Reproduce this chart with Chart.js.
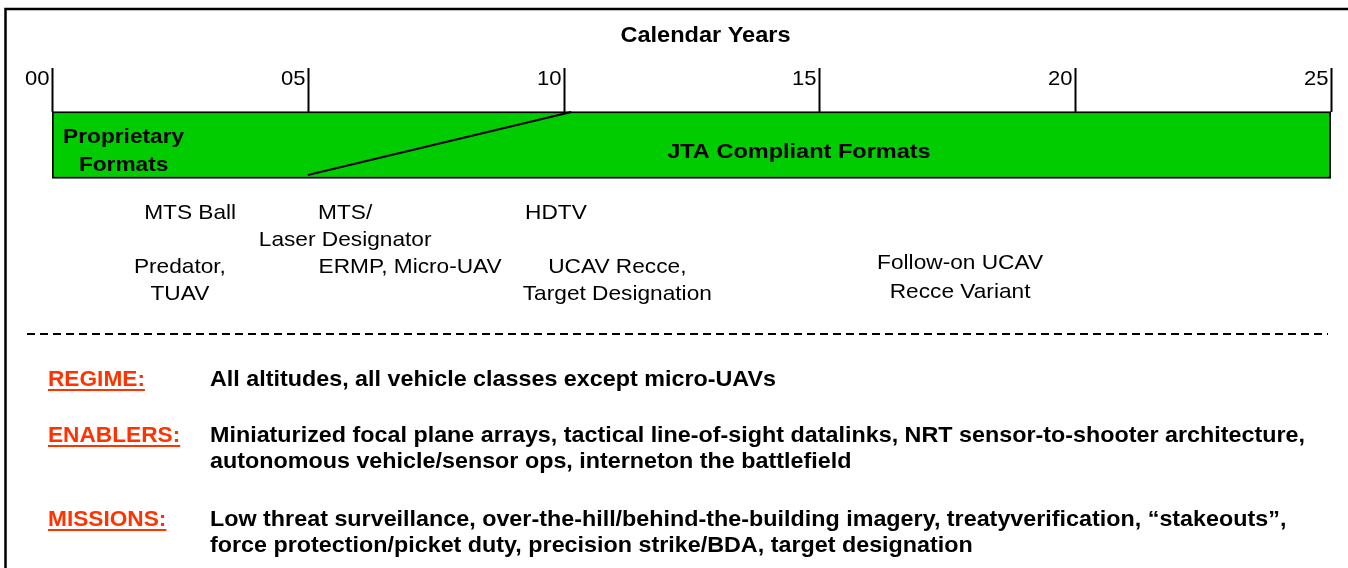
<!DOCTYPE html>
<html>
<head>
<meta charset="utf-8">
<script src="https://cdn.jsdelivr.net/npm/chart.js"></script>
<style>
  html, body { margin: 0; padding: 0; background: #fff; }
  canvas { display: block; }
</style>
</head>
<body>
<canvas id="timeline" width="1348" height="568"></canvas>
<script>
  // years on the calendar axis
  var yearTicks = [0, 5, 10, 15, 20, 25];
  var tickLabels = ['00', '05', '10', '15', '20', '25'];
  var timelineSpan = [0, 25];

  // proprietary -> JTA transition (years at bar bottom and bar top)
  var transitionYears = [5, 10.15];

  var phaseNames = [['Proprietary', 'Formats'], ['JTA Compliant Formats']];
  var phaseYears = [1.4, 14.6];

  // sensors (upper row) and platforms (lower row), placed by year
  var sensorNames = [['MTS Ball'], ['MTS/', 'Laser Designator'], ['HDTV']];
  var sensorYears = [2.7, 5.73, 9.85];
  var platformNames = [['Predator,', 'TUAV'], ['ERMP, Micro-UAV'], ['UCAV Recce,', 'Target Designation'], ['Follow-on UCAV', 'Recce Variant']];
  var platformYears = [2.5, 7.0, 11.05, 17.75];

  var sectionTitles = ['REGIME:', 'ENABLERS:', 'MISSIONS:'];
  var sectionTexts = [
    ['All altitudes, all vehicle classes except micro-UAVs'],
    ['Miniaturized focal plane arrays, tactical line-of-sight datalinks, NRT sensor-to-shooter architecture,',
     'autonomous vehicle/sensor ops, interneton the battlefield'],
    ['Low threat surveillance, over-the-hill/behind-the-building imagery, treatyverification, \u201cstakeouts\u201d,',
     'force protection/picket duty, precision strike/BDA, target designation']
  ];

  var FONT = '"Liberation Sans", Arial, sans-serif';

  // text drawn slightly stretched sideways, like the source slide
  function stretchText(ctx, text, x, y, sx) {
    ctx.save();
    ctx.translate(x, y);
    ctx.scale(sx, 1);
    ctx.fillText(text, 0, 0);
    ctx.restore();
    return ctx.measureText(text).width * sx;
  }

  function drawLines(ctx, lines, cx, top, step, sx) {
    for (var i = 0; i < lines.length; i++) {
      stretchText(ctx, lines[i], cx, top + i * step, sx);
    }
  }

  var decorPlugin = {
    id: 'decor',
    beforeDraw: function(chart) {
      var ctx = chart.ctx;
      ctx.save();
      ctx.strokeStyle = '#000';
      ctx.lineWidth = 2.5;
      ctx.beginPath();
      ctx.moveTo(5.5, 568);
      ctx.lineTo(5.5, 9);
      ctx.lineTo(1348, 9);
      ctx.stroke();
      ctx.restore();
    },
    afterDatasetsDraw: function(chart) {
      var ctx = chart.ctx;
      var x = chart.scales.x;
      var y = chart.scales.y;
      ctx.save();

      // title
      ctx.fillStyle = '#000';
      ctx.textAlign = 'center';
      ctx.textBaseline = 'middle';
      ctx.font = 'bold 22px ' + FONT;
      stretchText(ctx, 'Calendar Years', (x.left + x.right) / 2 + 14, y.getPixelForValue(36), 1.07);

      // year ticks
      ctx.strokeStyle = '#000';
      ctx.lineWidth = 2;
      ctx.font = '21px ' + FONT;
      ctx.textAlign = 'right';
      for (var i = 0; i < yearTicks.length; i++) {
        var px = Math.round(x.getPixelForValue(yearTicks[i])) + 0.5;
        ctx.beginPath();
        ctx.moveTo(px, y.getPixelForValue(68));
        ctx.lineTo(px, y.getPixelForValue(112));
        ctx.stroke();
        stretchText(ctx, tickLabels[i], px - 3, y.getPixelForValue(79), 1.05);
      }

      // phase names inside the bar
      ctx.textAlign = 'center';
      ctx.font = 'bold 21px ' + FONT;
      drawLines(ctx, phaseNames[0], x.getPixelForValue(phaseYears[0]), y.getPixelForValue(137), 28, 1.08);
      drawLines(ctx, phaseNames[1], x.getPixelForValue(phaseYears[1]), y.getPixelForValue(152), 28, 1.12);

      // sensors and platforms
      ctx.font = '21px ' + FONT;
      var sensorRows = [213, 213, 213];
      for (var s = 0; s < sensorNames.length; s++) {
        drawLines(ctx, sensorNames[s], x.getPixelForValue(sensorYears[s]), y.getPixelForValue(sensorRows[s]), 27, 1.08);
      }
      var platformRows = [267, 267, 267, 263];
      for (var p = 0; p < platformNames.length; p++) {
        drawLines(ctx, platformNames[p], x.getPixelForValue(platformYears[p]), y.getPixelForValue(platformRows[p]), p == 3 ? 29 : 27, 1.08);
      }

      // dashed separator
      ctx.setLineDash([8, 5]);
      ctx.lineWidth = 2;
      ctx.beginPath();
      ctx.moveTo(27, y.getPixelForValue(334));
      ctx.lineTo(1328, y.getPixelForValue(334));
      ctx.stroke();
      ctx.setLineDash([]);

      // regime / enablers / missions
      var sectionRows = [380, 436, 520];
      ctx.textAlign = 'left';
      for (var k = 0; k < sectionTitles.length; k++) {
        var ry = y.getPixelForValue(sectionRows[k]);
        ctx.font = 'bold 22px ' + FONT;
        ctx.fillStyle = '#FF3300';
        var w = stretchText(ctx, sectionTitles[k], 48, ry, 1.03);
        ctx.strokeStyle = '#FF3300';
        ctx.lineWidth = 2;
        ctx.beginPath();
        ctx.moveTo(48, ry + 10);
        ctx.lineTo(48 + w, ry + 10);
        ctx.stroke();

        ctx.fillStyle = '#000';
        drawLines(ctx, sectionTexts[k], 210, ry, 26, 1.06);
      }
      ctx.restore();
    }
  };

  var ctx = document.getElementById('timeline');
  var chart = new Chart(ctx, {
    data: {
      datasets: [
        {
          type: 'line',
          label: 'transition',
          data: [{x: transitionYears[0], y: 175}, {x: transitionYears[1], y: 112}],
          borderColor: '#000',
          borderWidth: 2,
          pointRadius: 0,
          order: 1
        },
        {
          type: 'bar',
          label: 'formats',
          indexAxis: 'y',
          data: [{x: timelineSpan, y: 145}],
          backgroundColor: '#00CC00',
          borderColor: '#000',
          borderWidth: 2,
          borderSkipped: false,
          barThickness: 67,
          order: 2
        }
      ]
    },
    options: {
      responsive: false,
      animation: false,
      events: [],
      layout: { padding: { left: 52, right: 17, top: 0, bottom: 0 } },
      scales: {
        x: { type: 'linear', min: 0, max: 25, offset: false, display: false },
        y: { type: 'linear', min: 0, max: 568, reverse: true, offset: false, display: false }
      },
      plugins: {
        legend: { display: false },
        tooltip: { enabled: false }
      }
    },
    plugins: [decorPlugin]
  });
</script>
</body>
</html>
